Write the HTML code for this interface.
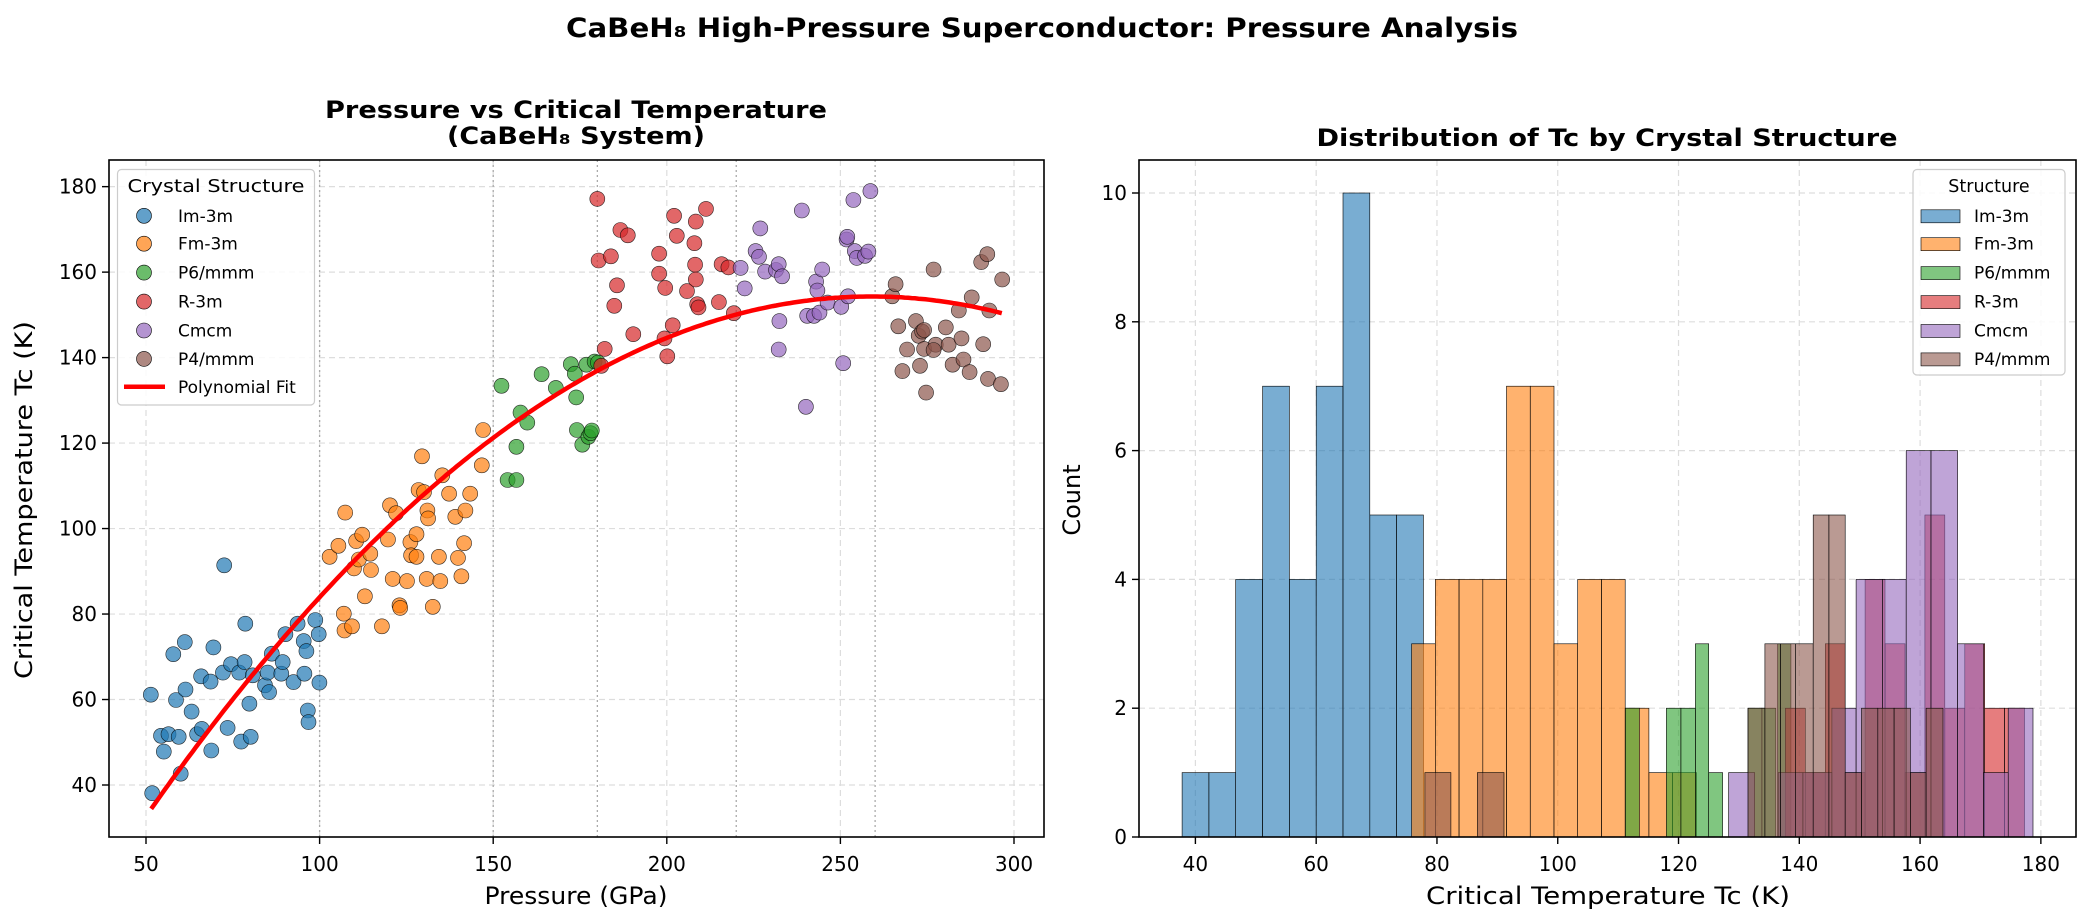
<!DOCTYPE html>
<html><head><meta charset="utf-8"><style>
html,body{margin:0;padding:0;background:#fff;}
svg{display:block;font-family:"DejaVu Sans","Liberation Sans",sans-serif;}
</style></head><body>
<svg id="s" width="2085" height="918" viewBox="0 0 2085 918" xmlns="http://www.w3.org/2000/svg">
<rect width="2085" height="918" fill="#fff"/>
<text x="1042" y="37" font-size="27" font-weight="bold" text-anchor="middle" textLength="952" lengthAdjust="spacingAndGlyphs">CaBeH₈ High-Pressure Superconductor: Pressure Analysis</text>
<text x="576" y="118" font-size="24" font-weight="bold" text-anchor="middle" textLength="502" lengthAdjust="spacingAndGlyphs">Pressure vs Critical Temperature</text>
<text x="576" y="144" font-size="24" font-weight="bold" text-anchor="middle" textLength="258" lengthAdjust="spacingAndGlyphs">(CaBeH₈ System)</text>
<text x="1607" y="146" font-size="24" font-weight="bold" text-anchor="middle" textLength="581" lengthAdjust="spacingAndGlyphs">Distribution of Tc by Crystal Structure</text>
<g id="L"></g>
<g id="R"></g>
</svg>
<script>
const NS="http://www.w3.org/2000/svg";
function el(p,t,a,txt){const e=document.createElementNS(NS,t);for(const k in a)e.setAttribute(k,a[k]);if(txt!==undefined)e.textContent=txt;p.appendChild(e);return e;}
const C=["#1f77b4","#ff7f0e","#2ca02c","#d62728","#9467bd","#8c564b"];
const names=["Im-3m","Fm-3m","P6/mmm","R-3m","Cmcm","P4/mmm"];
const L=document.getElementById("L");
const lx0=109,lx1=1044,ly0=160,ly1=837;
const px=p=>146+(p-50)*3.472, ty=t=>785-(t-40)*4.274;
for(const p of [50,100,150,200,250,300]) el(L,"line",{x1:px(p),x2:px(p),y1:ly0,y2:ly1,stroke:"#ddd","stroke-dasharray":"6,4","stroke-width":1.2});
for(const t of [40,60,80,100,120,140,160,180]) el(L,"line",{x1:lx0,x2:lx1,y1:ty(t),y2:ty(t),stroke:"#ddd","stroke-dasharray":"6,4","stroke-width":1.2});
for(const p of [100,150,180,220,260]) el(L,"line",{x1:px(p),x2:px(p),y1:ly0,y2:ly1,stroke:"#aaa","stroke-dasharray":"2,3","stroke-width":1.3});
const pts=[
[[222,1130],[237,1208],[241,1238],[248,1205],[255,1053],[259,1140],[263,1210],[266,1280],[272,1030],[273,1120],[282,1162],[290,1205],[296,1095],[297,1195],[310,1105],[311,1236],[314,1040],[328,1088],[330,884],[335,1193],[340,1072],[352,1088],[355,1219],[361,995],[360,1068],[367,1147],[369,1210],[372,1093],[390,1112],[394,1088],[396,1125],[400,1052],[414,1090],[416,1068],[420,1015],[432,1106],[438,995],[447,1028],[448,1090],[451,1047],[453,1160],[454,1182],[464,988],[469,1015],[470,1107],[224,1317]],
[[485,868],[498,847],[506,976],[507,1008],[508,784],[518,1000],[521,890],[524,838],[528,873],[533,826],[537,943],[545,862],[546,893],[562,1000],[571,835],[574,770],[578,910],[583,785],[588,960],[589,965],[599,914],[604,840],[605,865],[613,825],[613,868],[616,741],[621,677],[624,745],[628,910],[629,780],[630,795],[637,963],[646,868],[648,914],[651,713],[661,748],[670,792],[674,870],[679,905],[683,842],[685,780],[692,748],[709,694],[711,627]],
[[738,543],[747,722],[760,722],[760,659],[766,594],[776,613],[797,521],[818,547],[840,502],[846,520],[848,565],[849,627],[857,655],[863,503],[866,640],[869,633],[871,628],[875,497],[880,499]],
[[879,188],[881,305],[885,505],[890,473],[899,297],[904,391],[908,352],[913,247],[924,257],[932,445],[970,292],[970,330],[979,357],[978,453],[982,487],[990,428],[992,220],[996,258],[1011,363],[1022,272],[1023,313],[1024,341],[1024,231],[1026,388],[1028,394],[1039,207],[1058,384],[1062,312],[1072,318],[1080,405]],
[[1090,319],[1096,358],[1112,287],[1117,298],[1119,244],[1126,326],[1142,323],[1146,312],[1147,420],[1146,474],[1151,335],[1180,210],[1186,583],[1188,410],[1198,410],[1201,345],[1203,362],[1206,404],[1210,322],[1218,385],[1238,393],[1241,500],[1246,265],[1248,373],[1256,190],[1258,287],[1261,300],[1273,296],[1278,288],[1281,173],[1247,260]],
[[1313,373],[1318,350],[1322,430],[1328,515],[1335,474],[1348,420],[1352,448],[1354,505],[1357,440],[1360,473],[1363,556],[1360,437],[1374,322],[1377,465],[1374,475],[1392,432],[1396,465],[1402,503],[1411,400],[1415,453],[1418,493],[1427,517],[1430,375],[1444,308],[1447,464],[1453,293],[1454,530],[1456,400],[1473,540],[1475,341]]];
pts.forEach((g,i)=>g.forEach(([zx,zy])=>el(L,"circle",{cx:(zx/1.4717).toFixed(1),cy:(100+zy/1.9).toFixed(1),r:7.5,fill:C[i],"fill-opacity":0.7,stroke:"#000","stroke-width":0.6,"stroke-opacity":0.8})));
let d="";for(let p=51.5;p<=297;p+=1){const t=154.3-0.002784*(p-259)*(p-259);d+=(d?"L":"M")+px(p).toFixed(1)+","+ty(t).toFixed(1);}
el(L,"path",{d:d,fill:"none",stroke:"#ff0000","stroke-width":4.5});
el(L,"rect",{x:lx0,y:ly0,width:lx1-lx0,height:ly1-ly0,fill:"none",stroke:"#000","stroke-width":1.6});
for(const p of [50,100,150,200,250,300]){el(L,"line",{x1:px(p),x2:px(p),y1:ly1,y2:ly1+7,stroke:"#000","stroke-width":1.4});el(L,"text",{x:px(p),y:871,"font-size":20,"text-anchor":"middle"},p);}
for(const t of [40,60,80,100,120,140,160,180]){el(L,"line",{x1:lx0-7,x2:lx0,y1:ty(t),y2:ty(t),stroke:"#000","stroke-width":1.4});el(L,"text",{x:97,y:ty(t)+7,"font-size":20,"text-anchor":"end"},t);}
el(L,"text",{x:576,y:904,"font-size":24,"text-anchor":"middle",textLength:183,lengthAdjust:"spacingAndGlyphs"},"Pressure (GPa)");
el(L,"text",{x:0,y:0,"font-size":24,"text-anchor":"middle",transform:"translate(32,500) rotate(-90)",textLength:358,lengthAdjust:"spacingAndGlyphs"},"Critical Temperature Tc (K)");
el(L,"rect",{x:117.5,y:169.5,width:197,height:235.5,rx:4,fill:"#fff","fill-opacity":0.85,stroke:"#ccc","stroke-width":1.2});
el(L,"text",{x:216,y:192,"font-size":17.5,"text-anchor":"middle",textLength:177,lengthAdjust:"spacingAndGlyphs"},"Crystal Structure");
const ly=[215.8,243.7,272.6,301.6,330.5,358.9,386.8];
names.forEach((n,i)=>{el(L,"circle",{cx:144,cy:ly[i],r:7.5,fill:C[i],"fill-opacity":0.7,stroke:"#000","stroke-width":0.6});el(L,"text",{x:178,y:ly[i]+6,"font-size":17},n);});
el(L,"line",{x1:124,x2:165,y1:ly[6],y2:ly[6],stroke:"#ff0000","stroke-width":4.5});
el(L,"text",{x:178,y:ly[6]+6,"font-size":17},"Polynomial Fit");
const R=document.getElementById("R");
const rx0=1139,rx1=2076,ry0=160,ry1=837;
const tx=t=>1195.4+(t-40)*6.039, cy=c=>837-c*64.4;
for(const t of [40,60,80,100,120,140,160,180]) el(R,"line",{x1:tx(t),x2:tx(t),y1:ry0,y2:ry1,stroke:"#ddd","stroke-dasharray":"6,4","stroke-width":1.2});
for(const c of [0,2,4,6,8,10]) el(R,"line",{x1:rx0,x2:rx1,y1:cy(c),y2:cy(c),stroke:"#ddd","stroke-dasharray":"6,4","stroke-width":1.2});
function bars(col,arr){arr.forEach(([a,b,c])=>{if(c>0)el(R,"rect",{x:tx(a).toFixed(1),y:cy(c).toFixed(1),width:(tx(b)-tx(a)).toFixed(1),height:(c*64.4).toFixed(1),fill:col,"fill-opacity":0.6,stroke:"#000","stroke-width":0.6});});}
function seq(start,w,counts){return counts.map((c,i)=>[start+i*w,start+(i+1)*w,c]);}
bars(C[0],seq(37.8,4.44,[1,1,4,7,4,7,10,5,5]));
bars(C[1],seq(75.8,3.93,[3,4,4,4,7,7,3,4,4,2,1,1]));
bars(C[2],[[111.2,113.5,2],[118,120.4,2],[120.4,122.8,2],[122.8,125,3],[125,127.3,1],[131.5,133.8,2],[133.8,136.1,2],[136.4,138.6,3]]);
bars(C[3],seq(137.7,3.3,[2,1,3,1,4,3,1,5,2,3,2,2]));
bars(C[4],[[128.3,132.6,1],[136.5,140.6,1],[140.6,145.4,1],[145.4,149.4,2],[149.4,153.8,4],[153.8,157.7,4],[157.7,161.8,6],[161.8,166.2,6],[166.2,170.5,3],[170.5,174.6,1],[174.6,178.7,2]]);
bars(C[5],[[78,82.3,1],[86.7,91.1,1],[131.5,134.3,2],[134.3,136.9,3],[136.9,139.4,3],[139.4,142.3,3],[142.3,144.9,5],[144.9,147.6,5],[147.6,150.3,1],[150.3,153,2],[153,155.7,2],[155.7,158.4,2],[158.4,161,1],[161,163.8,2]]);
el(R,"rect",{x:rx0,y:ry0,width:rx1-rx0,height:ry1-ry0,fill:"none",stroke:"#000","stroke-width":1.6});
for(const t of [40,60,80,100,120,140,160,180]){el(R,"line",{x1:tx(t),x2:tx(t),y1:ry1,y2:ry1+7,stroke:"#000","stroke-width":1.4});el(R,"text",{x:tx(t),y:871,"font-size":20,"text-anchor":"middle"},t);}
for(const c of [0,2,4,6,8,10]){el(R,"line",{x1:rx0-7,x2:rx0,y1:cy(c),y2:cy(c),stroke:"#000","stroke-width":1.4});el(R,"text",{x:1127,y:cy(c)+7,"font-size":20,"text-anchor":"end"},c);}
el(R,"text",{x:1608,y:904,"font-size":24,"text-anchor":"middle",textLength:364,lengthAdjust:"spacingAndGlyphs"},"Critical Temperature Tc (K)");
el(R,"text",{x:0,y:0,"font-size":24,"text-anchor":"middle",transform:"translate(1080,500) rotate(-90)"},"Count");
el(R,"rect",{x:1913,y:169.5,width:152,height:205.5,rx:4,fill:"#fff","fill-opacity":0.85,stroke:"#ccc","stroke-width":1.2});
el(R,"text",{x:1989,y:192,"font-size":17.5,"text-anchor":"middle"},"Structure");
names.forEach((n,i)=>{el(R,"rect",{x:1921,y:ly[i]-6,width:39,height:13,fill:C[i],"fill-opacity":0.6,stroke:"#000","stroke-width":0.6});el(R,"text",{x:1974,y:ly[i]+6,"font-size":17},n);});
</script>
</body></html>
